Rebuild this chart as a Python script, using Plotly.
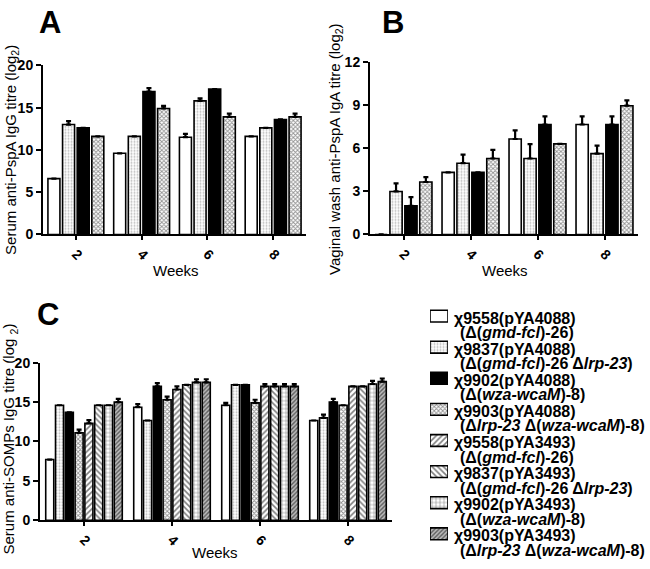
import plotly.graph_objects as go

weeks = ["2", "4", "6", "8"]

# Panel A: serum anti-PspA IgG (log2)
a_vals = [
    [6.6, 9.6, 11.5, 11.6],
    [13.0, 11.6, 15.8, 12.6],
    [12.6, 16.9, 17.2, 13.6],
    [11.6, 14.9, 13.9, 13.9],
]
a_err = [
    [0, 0, 0.4, 0],
    [0.4, 0, 0.3, 0],
    [0, 0.4, 0, 0],
    [0, 0.3, 0.4, 0.4],
]

# Panel B: vaginal wash anti-PspA IgA (log2)
b_vals = [
    [0, 4.33, 6.66, 7.67],
    [3.0, 4.97, 5.3, 5.64],
    [2.0, 4.33, 7.67, 7.67],
    [3.66, 5.3, 6.32, 8.98],
]
b_err = [
    [0, 0, 0.6, 0.56],
    [0.56, 0.6, 1.0, 0.56],
    [0.6, 0, 0.56, 0.56],
    [0.34, 0.6, 0, 0.38],
]

# Panel C: serum anti-SOMPs IgG (log2)
c_vals = [
    [7.7, 14.35, 14.6, 12.66],
    [14.6, 12.66, 17.2, 13.0],
    [13.7, 17.0, 17.2, 15.0],
    [11.1, 15.3, 14.9, 14.6],
    [12.3, 16.6, 17.0, 17.0],
    [14.6, 17.2, 17.0, 17.0],
    [14.6, 17.5, 17.0, 17.3],
    [15.0, 17.5, 17.0, 17.6],
]
c_err = [
    [0, 0.4, 0.3, 0],
    [0, 0, 0, 0.4],
    [0, 0.4, 0, 0.4],
    [0.4, 0.4, 0.4, 0],
    [0.4, 0.4, 0.3, 0],
    [0, 0, 0.3, 0],
    [0, 0.4, 0.3, 0.4],
    [0.4, 0.4, 0.3, 0.4],
]

strain_names = [
    "χ9558(pYA4088)", "χ9837(pYA4088)", "χ9902(pYA4088)", "χ9903(pYA4088)",
    "χ9558(pYA3493)", "χ9837(pYA3493)", "χ9902(pYA3493)", "χ9903(pYA3493)",
]
genotypes = [
    "(Δ(<i>gmd-fcl</i>)-26)",
    "(Δ(<i>gmd-fcl</i>)-26 Δ<i>lrp-23</i>)",
    "(Δ(<i>wza-wcaM</i>)-8)",
    "(Δ<i>lrp-23</i> Δ(<i>wza-wcaM</i>)-8)",
    "(Δ(<i>gmd-fcl</i>)-26)",
    "(Δ(<i>gmd-fcl</i>)-26 Δ<i>lrp-23</i>)",
    "(Δ(<i>wza-wcaM</i>)-8)",
    "(Δ<i>lrp-23</i> Δ(<i>wza-wcaM</i>)-8)",
]

styles = [
    dict(color="white", pattern=dict(shape="")),
    dict(color="white", pattern=dict(shape=".", fgcolor="#777", bgcolor="white", size=3, solidity=0.35)),
    dict(color="black", pattern=dict(shape="")),
    dict(color="white", pattern=dict(shape="x", fgcolor="#222", bgcolor="white", size=3, solidity=0.5)),
    dict(color="white", pattern=dict(shape="/", fgcolor="black", bgcolor="white", size=4, solidity=0.4)),
    dict(color="white", pattern=dict(shape="\\", fgcolor="black", bgcolor="white", size=4, solidity=0.4)),
    dict(color="white", pattern=dict(shape="+", fgcolor="black", bgcolor="white", size=4, solidity=0.25)),
    dict(color="white", pattern=dict(shape="/", fgcolor="black", bgcolor="#bbb", size=3, solidity=0.45)),
]

FONT = "Liberation Sans, Arial, sans-serif"
fig = go.Figure()


def add_bars(vals, errs, xa, ya):
    for i, (v, e) in enumerate(zip(vals, errs)):
        st = styles[i]
        fig.add_trace(go.Bar(
            x=weeks, y=v, name=strain_names[i],
            xaxis=xa, yaxis=ya, showlegend=False,
            offsetgroup=str(i),
            marker=dict(color=st["color"], pattern=st["pattern"],
                        line=dict(color="black", width=1.6)),
            error_y=dict(type="data", symmetric=False, array=e,
                         arrayminus=[0] * len(e), color="black",
                         thickness=2.2, width=2.5),
        ))


add_bars(a_vals, a_err, "x", "y")
add_bars(b_vals, b_err, "x2", "y2")
add_bars(c_vals, c_err, "x3", "y3")

# legend swatches drawn in a hidden helper axis (one row per strain)
for i, st in enumerate(styles):
    fig.add_trace(go.Bar(
        x=[1], y=[i], orientation="h", base=0, width=0.38,
        xaxis="x4", yaxis="y4", showlegend=False, offsetgroup="leg",
        marker=dict(color=st["color"], pattern=st["pattern"],
                    line=dict(color="black", width=1.6)),
        hoverinfo="skip",
    ))

W, H = 650, 569
PITCH = 32.0
ROW0 = 317.0


def dx(a, b):
    return [a / W, b / W]


def dy(top, bot):
    return [1 - bot / H, 1 - top / H]


axis_common = dict(
    showline=True, linecolor="black", linewidth=2, ticks="outside",
    tickwidth=2, tickcolor="black", ticklen=5, showgrid=False, zeroline=False,
    tickfont=dict(family=FONT, size=14, color="black", weight="bold"),
)
xcommon = dict(axis_common, type="category", range=[-0.5, 3.5], tickangle=45, ticklen=4)

fig.update_layout(
    width=W, height=H, margin=dict(l=0, r=0, t=0, b=0),
    plot_bgcolor="white", paper_bgcolor="white",
    barmode="group", bargap=0.11, bargroupgap=0.18,
    font=dict(family=FONT, color="black"),
    showlegend=False,
    xaxis=dict(xcommon, domain=dx(43, 306), anchor="y"),
    yaxis=dict(axis_common, domain=dy(59, 233), anchor="x", range=[0, 20],
               tickvals=[0, 5, 10, 15, 20]),
    xaxis2=dict(xcommon, domain=dx(370, 638), anchor="y2"),
    yaxis2=dict(axis_common, domain=dy(56, 233), anchor="x2", range=[0, 12],
                tickvals=[0, 3, 6, 9, 12]),
    xaxis3=dict(xcommon, domain=dx(40, 392), anchor="y3"),
    yaxis3=dict(axis_common, domain=dy(365, 527), anchor="x3", range=[0, 20],
                tickvals=[0, 5, 10, 15, 20]),
    xaxis4=dict(domain=dx(430, 448), range=[0, 1], visible=False, fixedrange=True),
    yaxis4=dict(domain=dy(ROW0 - 0.5 * PITCH, ROW0 + 7.75 * PITCH), range=[7.75, -0.5],
                visible=False, fixedrange=True, anchor="x4"),
)

ann = []
big = dict(family=FONT, size=31, color="black", weight="bold")
for lab, x, y in [("A", 50, 15), ("B", 393, 15), ("C", 48, 315)]:
    ann.append(dict(text=lab, x=x / W, y=1 - y / H, xref="paper", yref="paper",
                    xanchor="center", yanchor="middle", showarrow=False, font=big))

title_font = dict(family=FONT, size=15, color="black")
for txt, x, y in [("Serum anti-PspA IgG titre (log<sub>2</sub>)", 12, 146),
                  ("Vaginal wash anti-PspA IgA titre (log<sub>2</sub>)", 336, 145),
                  ("Serum anti-SOMPs IgG titre (log <sub>2</sub>)", 10, 444)]:
    ann.append(dict(text=txt, x=x / W, y=1 - y / H, xref="paper", yref="paper",
                    xanchor="center", yanchor="middle", textangle=-90,
                    showarrow=False, font=title_font))
for x, y in [(176, 270), (505, 270), (215, 560)]:
    ann.append(dict(text="Weeks", x=x / W, y=1 - y / H, xref="paper", yref="paper",
                    xanchor="center", yanchor="middle", showarrow=False,
                    font=dict(family=FONT, size=15, color="black")))

leg_font = dict(family=FONT, size=16, color="black", weight="bold")
for i in range(len(strain_names)):
    ann.append(dict(text=strain_names[i], x=453 / W, y=i + 2 / PITCH, xref="paper", yref="y4",
                    xanchor="left", yanchor="middle", showarrow=False, font=leg_font,
                    borderpad=0))
    ann.append(dict(text=genotypes[i], x=459 / W, y=i + 17 / PITCH, xref="paper", yref="y4",
                    xanchor="left", yanchor="middle", showarrow=False, font=leg_font,
                    borderpad=0))

fig.update_layout(annotations=ann)

fig.write_html("out.html", config={"displayModeBar": False},
               post_script="document.body.style.margin='0px';document.body.style.overflow='hidden';")
